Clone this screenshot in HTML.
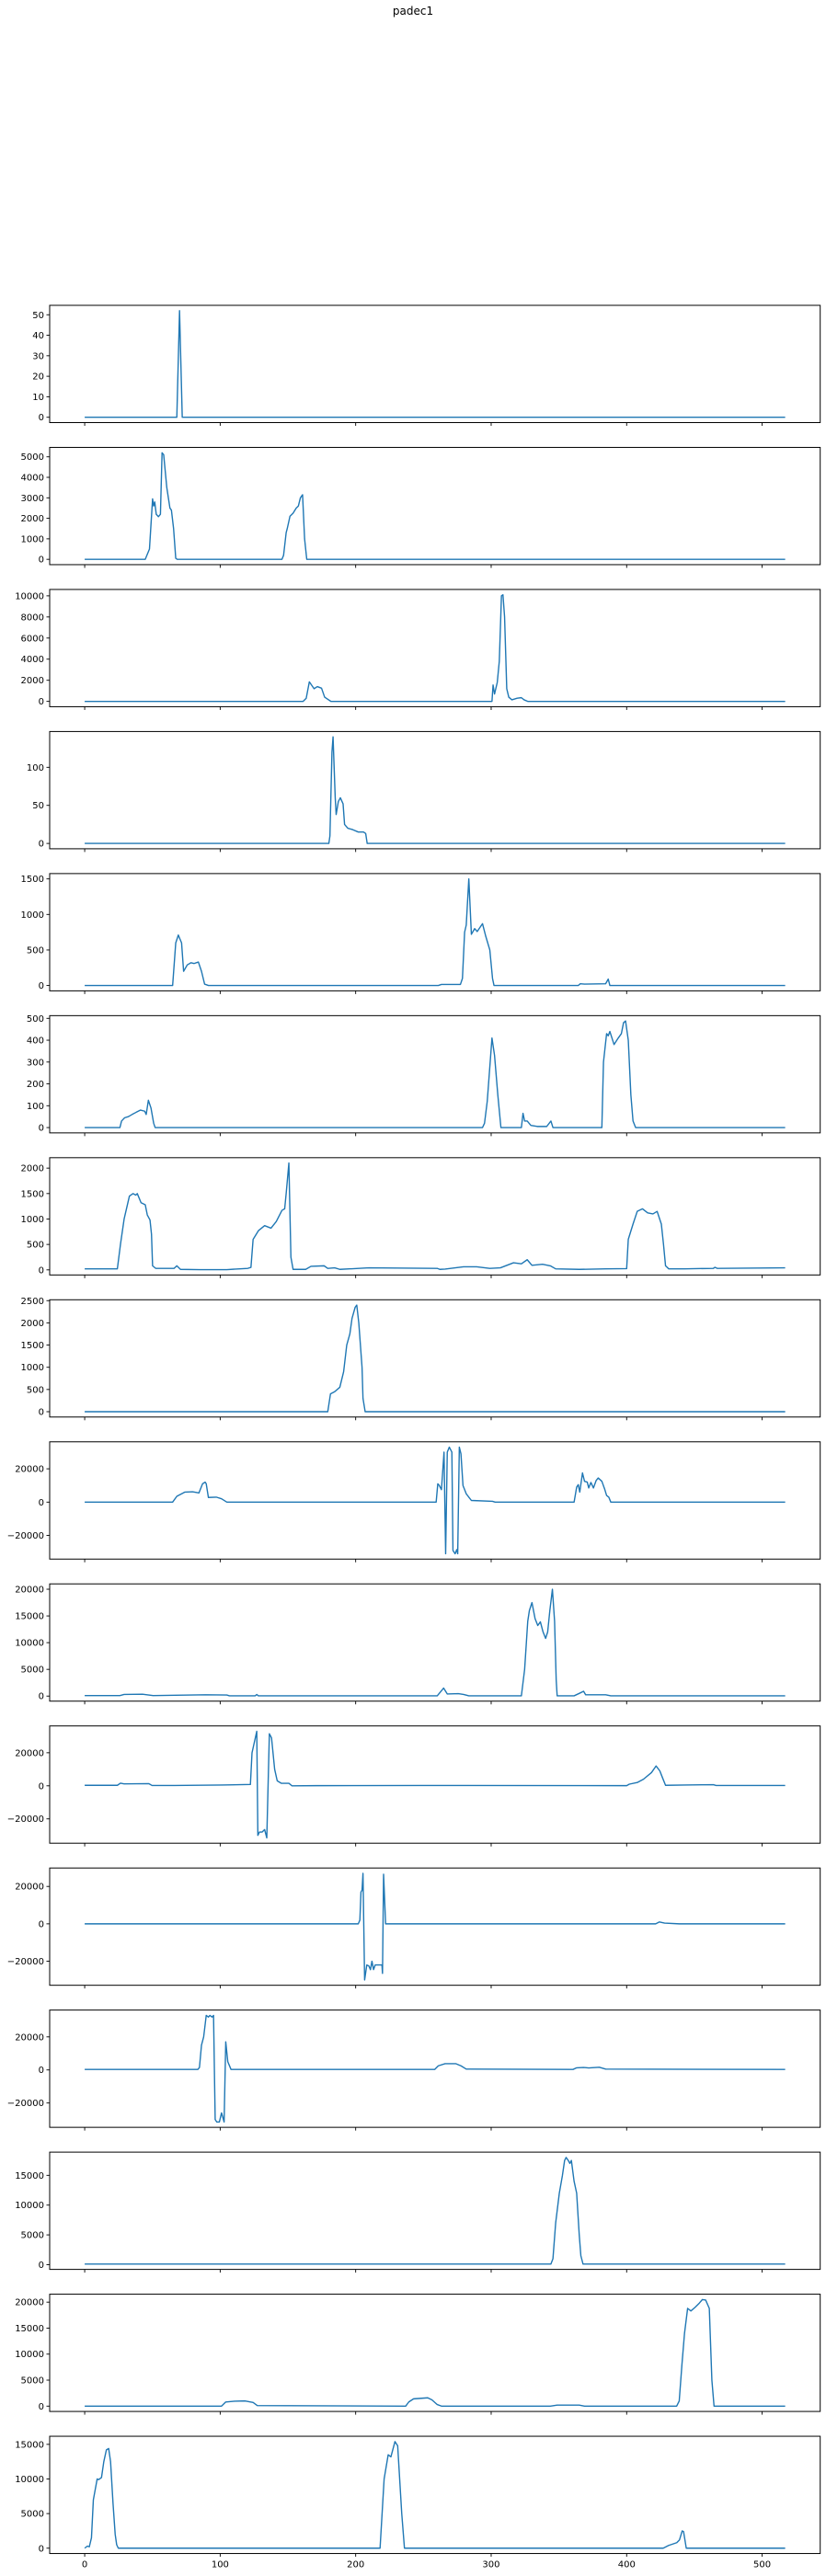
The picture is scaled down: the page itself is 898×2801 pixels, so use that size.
<!DOCTYPE html>
<html><head><meta charset="utf-8"><style>
html,body{margin:0;padding:0;background:#fff;}
svg{display:block;}
text{font-family:"DejaVu Sans","Liberation Sans",sans-serif;fill:#000;}
</style></head><body>
<svg id="fig" width="898" height="2801" viewBox="0 0 898 2801" xmlns="http://www.w3.org/2000/svg">
<rect width="898" height="2801" fill="#fff"/>
<text x="449" y="16" text-anchor="middle" font-size="12">padec1</text>
</svg>
<script>
const xTicks = [0,100,200,300,400,500];
const p1X=[0,68,70,72,517]; const p1Y=[0,0,52,0,0];
const p2X=[0,44.7,47.8,50.1,50.9,51.7,52.8,54.4,55.9,57.1,58.3,60.6,62.9,64,65.6,67.2,68.3,145.6,146.8,148.7,149.5,151.5,153.8,156.1,157.7,159.2,160.8,162.3,163.9,517];
const p2Y=[0,0,500,2950,2600,2800,2200,2080,2200,5200,5100,3500,2500,2400,1500,50,0,0,200,1300,1500,2100,2250,2500,2600,3000,3150,1000,0,0];
const p3X=[0,161.2,163.5,165.8,169.3,171.7,174.8,177.1,181.7,300.6,301.4,302.5,304.5,306,307.6,308.7,309.9,311.5,313,315.3,319.2,322.3,324.3,327,517];
const p3Y=[0,0,300,1850,1200,1400,1250,400,0,0,1550,700,1800,3800,10000,10100,8000,1200,400,150,300,350,150,0,0];
const p4X=[0,180.2,181,182.5,183.3,184.9,185.6,187.2,188.7,190.7,191.8,194.2,198,201.9,205.8,207.4,208.5,517];
const p4Y=[0,0,10,120,140,60,38,55,60,52,25,20,18,15,15,13,0,0];
const p5X=[0,64.9,67.2,69.1,71.5,73,75.7,78.4,80.8,83.9,86.2,88.5,91.3,261,263.3,277.3,278.8,280.4,281.6,283.5,285.4,287.8,289.7,293.6,295.9,299,301,302.1,364.3,365.8,368.9,384.5,386.4,387.6,517];
const p5Y=[0,0,600,710,600,200,290,320,310,330,200,20,0,0,15,15,100,750,850,1500,720,800,760,870,700,500,100,0,0,25,20,25,90,0,0];
const p6X=[0,26,27.2,29.5,32.2,35,38,41.2,44.3,45.4,47,48.9,50.9,52,293.6,295.1,297.1,300.6,302.5,304.9,307.2,322.3,323.5,324.7,326.6,329.3,334,341,344.1,345.6,381.7,382.9,385.2,386.4,387.6,390.7,393.8,396.1,397.7,399.2,401.2,403.1,404.7,406.6,517];
const p6Y=[0,0,30,45,50,60,70,80,75,60,125,90,20,0,0,20,120,410,330,150,0,0,65,30,30,10,5,5,30,0,0,300,430,420,440,380,410,430,480,488,400,150,30,0,0];
const p7X=[0,24.1,26.4,29.1,33,35.7,37.7,38.8,41.6,44.7,46.2,48.2,49.3,50.1,52.4,66,68,70.7,85.4,104.9,120.4,122.7,124.3,128.2,132.8,137.5,141.4,145.6,147.6,148.7,150.7,152.2,153.8,163.1,167,176.7,179.4,184.5,188.3,209.7,260.2,262.1,266,279.6,289.3,299,306.8,316.5,322.3,326.6,330.1,337.9,343.7,347.6,365,384.5,400,401.2,404.7,407.8,411.7,415.5,419.4,422.5,425.6,427.2,428.7,431.1,442.7,464,465.2,466.8,517];
const p7Y=[20,20,500,1000,1450,1500,1470,1500,1320,1280,1080,980,700,80,30,30,80,10,5,5,30,50,600,770,870,820,950,1170,1200,1500,2100,250,10,10,70,80,30,40,10,40,30,10,15,60,60,30,40,140,120,200,90,110,80,20,10,20,25,600,900,1150,1200,1120,1100,1150,900,500,80,20,20,30,50,30,40];
const p8X=[0,179.4,181.4,184.5,188.3,191.1,193.4,195.7,197.3,199.6,200.8,202.3,204.7,205.4,207,517];
const p8Y=[0,0,400,450,550,900,1500,1750,2100,2350,2400,2000,1000,300,0,0];
const p9X=[0,64.9,68,73.8,79.6,84.3,87,88.9,89.7,91.3,97.1,101,104.9,259.4,260.6,261.7,263.3,265.2,266.4,267.6,269.1,271,271.8,273.4,274.6,275.3,276.5,277.7,279.2,281.6,283.5,285.4,301,302.9,361.2,363.1,364.3,365.4,367.4,368.9,370.9,372,373.6,375.5,377.5,379,381.7,383.7,385.2,386.8,388.3,517];
const p9Y=[0,0,3500,6000,6200,5500,11000,12000,11000,2800,3000,2000,0,0,11000,10000,7500,30000,-31000,30000,33000,30000,-29000,-31000,-28500,-31000,33000,29000,10000,5000,3000,1000,500,0,0,9000,10500,6000,17500,12500,12000,8500,11800,8500,13000,14500,12500,8000,4000,3000,0,0];
const p10X=[0,26,29.1,42.7,50.5,89.3,104.9,106.8,125.8,127,128.2,155.3,260.2,264.9,267.6,275.7,279.6,283.5,322.3,324.7,327,328.2,330.1,332.4,334.4,336.3,338.3,340.2,341.7,343.3,345.2,346.8,348,348.7,361.2,365,368.2,369.7,384.5,388.3,517];
const p10Y=[100,100,300,350,100,250,200,50,50,300,50,50,50,1500,400,450,300,50,50,5000,14000,16000,17500,14500,13200,13900,12000,10800,12000,16000,20000,14000,3000,50,50,500,900,250,250,50,50];
const p11X=[0,24.1,26.4,29.1,47.4,49.7,66,101,122.3,123.5,127,127.8,129,130.9,132.8,134.4,136.3,137.9,140.2,142.1,145.2,150.7,153,170.9,248.5,400,402,407.8,412.4,418.3,421.7,424.5,426.4,428.7,442.7,464,466,517];
const p11Y=[300,300,1600,1200,1300,200,200,500,800,20000,33000,-30000,-28000,-28000,-26500,-31500,31500,29000,10000,3000,1500,1500,0,100,200,100,1000,2000,4000,8000,12000,9000,5000,300,500,700,200,200];
const p12X=[0,201.9,203.1,203.9,204.7,205.4,206.6,208.2,209.7,210.9,212,213.2,214.4,215.5,219.4,219.8,220.6,222.1,421.4,424.1,428,438.8,517];
const p12Y=[0,0,2000,17000,18000,27000,-30000,-22000,-22500,-24500,-20000,-24500,-22000,-22000,-22000,-26500,26500,0,0,1000,400,0,0];
const p13X=[0,83.5,84.7,86.2,87.8,89.7,91.3,92.4,94,95.1,96.3,97.5,99.4,101,102.9,104.1,105.6,108,258.3,261,266,273.8,277.7,281.6,360.4,363.1,368.2,372,379.8,384.5,517];
const p13Y=[300,300,1500,15000,20000,33000,32000,33000,32000,33000,-30000,-31500,-31500,-26000,-31500,17000,5000,300,300,2500,3800,3800,2500,500,300,1300,1500,1200,1600,500,300];
const p14X=[0,344.1,345.6,347.6,350.3,352.6,354.2,355.3,356.9,358.1,359.2,361.2,363.1,365,366.2,367.8,517];
const p14Y=[100,100,1000,7000,12000,15000,17500,18000,17500,17000,17500,14000,12000,5000,1500,100,100];
const p15X=[0,101,104.1,110.7,118.4,124.3,127.4,236.9,239.2,242.7,253.2,256.3,260.2,263.3,343.7,348.7,365,368.9,436.9,438.8,440.8,442.7,445,447.4,450.5,453.6,455.9,458.3,459.8,461,462.9,464.5,517];
const p15Y=[0,0,800,950,1000,700,100,0,800,1400,1600,1200,300,0,0,200,200,0,0,1000,8000,14000,18800,18300,19000,19800,20500,20400,19500,18800,5000,0,0];
const p16X=[0,2,3.4,5,6.4,7.8,9.2,10.3,12.4,14.1,16,17.7,19.1,20.9,22.5,23.6,24.8,218,221,224,226,229,231,234,236,427,431,437,439,441,442,444,517];
const p16Y=[0,300,200,1500,7000,8500,10000,9900,10200,12500,14200,14400,12500,6500,2000,500,0,0,10000,13500,13200,15400,14800,5000,0,0,400,800,1200,2500,2400,0,0];
const p1T=[0,10,20,30,40,50], p2T=[0,1000,2000,3000,4000,5000], p3T=[0,2000,4000,6000,8000,10000], p4T=[0,50,100];
const p5T=[0,500,1000,1500], p6T=[0,100,200,300,400,500], p7T=[0,500,1000,1500,2000], p8T=[0,500,1000,1500,2000,2500];
const p9T=[-20000,0,20000], p10T=[0,5000,10000,15000,20000], p11T=[-20000,0,20000], p12T=[-20000,0,20000];
const p13T=[-20000,0,20000], p14T=[0,5000,10000,15000], p15T=[0,5000,10000,15000,20000], p16T=[0,5000,10000,15000];

const plots=[[p1X,p1Y,p1T],[p2X,p2Y,p2T],[p3X,p3Y,p3T],[p4X,p4Y,p4T],[p5X,p5Y,p5T],[p6X,p6Y,p6T],[p7X,p7Y,p7T],[p8X,p8Y,p8T],[p9X,p9Y,p9T],[p10X,p10Y,p10T],[p11X,p11Y,p11T],[p12X,p12Y,p12T],[p13X,p13Y,p13T],[p14X,p14Y,p14T],[p15X,p15Y,p15T],[p16X,p16Y,p16T]];
const NS="http://www.w3.org/2000/svg";
const svg=document.getElementById('fig');
const L=54, R=891.7, H=127.5, TOP0=332, STEP=154.47;
const XMIN=-25.85, XMAX=542.85;
function sx(v){return L+(v-XMIN)/(XMAX-XMIN)*(R-L);}
function mk(tag,attrs,parent){const e=document.createElementNS(NS,tag);for(const k in attrs)e.setAttribute(k,attrs[k]);(parent||svg).appendChild(e);return e;}
function fmt(v){return v<0?'\u2212'+Math.abs(v):String(v);}
plots.forEach((p,i)=>{
  const [xs,ys,ticks]=p;
  const top=TOP0+i*STEP, bot=top+H;
  const g=mk('g',{});
  
  
  const mn=Math.min(...ys), mx=Math.max(...ys), m=(mx-mn)*0.05;
  const y0=mn-m, y1=mx+m;
  const sy=v=>bot-(v-y0)/(y1-y0)*H;
  const pts=xs.map((x,k)=>sx(x).toFixed(2)+','+sy(ys[k]).toFixed(2)).join(' ');
  const line=mk('polyline',{points:pts,fill:'none',stroke:'#1f77b4','stroke-width':1.4,'stroke-linejoin':'round'},g);
  
  
  const frame=mk('rect',{x:L,y:top,width:R-L,height:H,fill:'none',stroke:'#000','stroke-width':1},g);
  
  
  ticks.forEach(t=>{
    const y=sy(t);
    mk('line',{x1:L-3.5,x2:L,y1:y,y2:y,stroke:'#000','stroke-width':0.9},g);
    const tx=mk('text',{x:L-6,y:y+3.5,'font-size':10,'text-anchor':'end'},g);
    tx.textContent=fmt(t);
    
    
  });
  xTicks.forEach(t=>{
    const x=sx(t);
    mk('line',{x1:x,x2:x,y1:bot,y2:bot+3.5,stroke:'#000','stroke-width':0.9},g);
    if(i===plots.length-1){
      const tx=mk('text',{x:x,y:bot+15,'font-size':10,'text-anchor':'middle'},g);
      tx.textContent=String(t);
      
      
    }
  });
});
</script>
</body></html>
